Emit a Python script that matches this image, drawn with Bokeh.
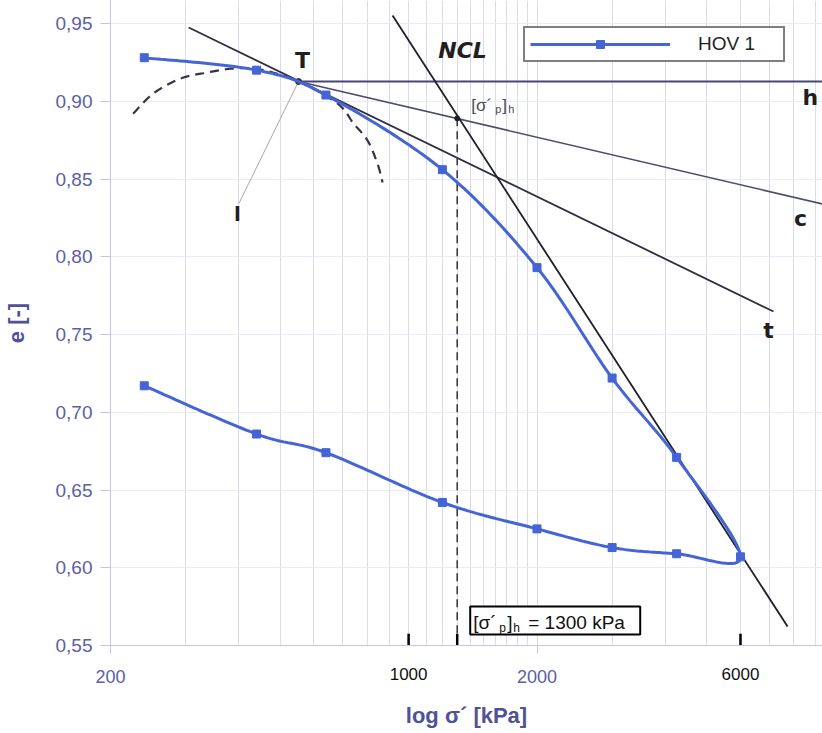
import numpy as np
from bokeh.plotting import figure
from bokeh.models import (Range1d, FixedTicker, CustomJSTickFormatter, Label,
                          Legend, LegendItem, BoxAnnotation, LogAxis)
from bokeh.embed import file_html
from bokeh.resources import INLINE

# ---------------- data ----------------
sigma_hov1 = [240, 440, 640, 1200, 2000, 3000, 4250, 6000,
              4250, 3000, 2000, 1200, 640, 440, 240]
e_hov1 = [0.928, 0.920, 0.904, 0.856, 0.793, 0.722, 0.671, 0.607,
          0.609, 0.613, 0.625, 0.642, 0.674, 0.686, 0.717]

# Casagrande construction
T_sigma, T_e = 552, 0.9127
horizontal_sigma = [552, 9600]
horizontal_e = [0.9127, 0.9127]
tangent_sigma = [305, 7170]
tangent_e = [0.9474, 0.7648]
bisector_sigma = [552, 9600]
bisector_e = [0.9127, 0.8332]
ncl_sigma = [917, 7736]
ncl_e = [0.9551, 0.5622]
l_sigma = [552, 400]
l_e = [0.9127, 0.8342]
arc_sigma = [226, 252, 292, 338, 389, 449, 552, 681, 743, 801, 845, 869]
arc_e = [0.892, 0.905, 0.9146, 0.9185, 0.9211, 0.9204, 0.9127,
         0.8986, 0.8857, 0.8748, 0.860, 0.8478]
sigma_p = 1300
sigma_p_e = 0.889

x_tick_values = [200, 2000]
hand_tick_values = [1000, 6000]
y_tick_values = [0.55, 0.60, 0.65, 0.70, 0.75, 0.80, 0.85, 0.90, 0.95]
grid_sigma = list(range(200, 2001, 100)) + list(range(3000, 9001, 1000))

# ---------------- layout ----------------
W, H = 822, 733
ML, MB = 110, 88
FW, FH = W - ML, H - MB
PXD = 426.5                       # pixels per decade
X0 = 200
X1 = X0 * 10 ** (FW / PXD)
Y0 = 0.55
PXE = 622 / 0.40                  # pixels per unit e
Y1 = Y0 + FH / PXE

BLUE = "#4565d6"
AXC = "#5c5ea6"
TITLEC = "#4f5199"


def smooth(xs, ys, n=30):
    P = np.column_stack([np.log10(np.asarray(xs, float)) * PXD,
                         np.asarray(ys, float) * PXE])
    out = []
    m = len(P)
    for i in range(m - 1):
        p0 = P[i - 1] if i > 0 else P[i]
        p1, p2 = P[i], P[i + 1]
        p3 = P[i + 2] if i + 2 < m else P[i + 1]
        c1 = p1 + (p2 - p0) / 6.0
        c2 = p2 - (p3 - p1) / 6.0
        t = np.linspace(0, 1, n)[:, None]
        B = ((1 - t) ** 3) * p1 + 3 * ((1 - t) ** 2) * t * c1 + \
            3 * (1 - t) * t ** 2 * c2 + t ** 3 * p2
        out.append(B if i == m - 2 else B[:-1])
    B = np.vstack(out)
    return 10 ** (B[:, 0] / PXD), B[:, 1] / PXE


def shift(x, px):
    return x * 10 ** (px / PXD)


p = figure(width=W, height=H, x_axis_type="log",
           x_range=Range1d(X0, X1), y_range=Range1d(Y0, Y1),
           output_backend="svg", toolbar_location=None,
           min_border_left=ML, min_border_right=0,
           min_border_top=0, min_border_bottom=MB)
p.outline_line_color = None
p.background_fill_color = "white"
p.border_fill_color = "white"

# grid
p.xgrid.ticker = FixedTicker(ticks=grid_sigma)
p.xgrid.grid_line_color = "#d9d9ef"
p.xgrid.grid_line_width = 1
p.ygrid.ticker = FixedTicker(ticks=y_tick_values)
p.ygrid.grid_line_color = "#ebebf6"

# axes
for ax in (p.xaxis[0], p.yaxis[0]):
    ax.axis_line_color = "#c4c4e4"
    ax.major_tick_line_color = "#c4c4e4"
    ax.minor_tick_line_color = None
    ax.major_tick_in = 0
    ax.major_label_text_color = AXC
    ax.major_label_text_font = "Liberation Sans"
    ax.axis_label_text_color = TITLEC
    ax.axis_label_text_font = "Liberation Sans"
    ax.axis_label_text_font_style = "bold"
    ax.axis_label_text_font_size = "22px"

xa = p.xaxis[0]
xa.ticker = FixedTicker(ticks=x_tick_values, minor_ticks=[])
xa.formatter = CustomJSTickFormatter(code="return String(Math.round(tick));")
xa.major_tick_out = 8
xa.major_label_standoff = 16
xa.major_label_text_font_size = "18px"

# second bottom axis: hand-written black numbers on the same row, plus title
xb = LogAxis(ticker=FixedTicker(ticks=hand_tick_values, minor_ticks=[]),
             formatter=CustomJSTickFormatter(code="return String(Math.round(tick));"))
xb.axis_line_color = None
xb.major_tick_line_color = None
xb.minor_tick_line_color = None
xb.major_tick_in = 0
xb.major_tick_out = 0
xb.major_label_standoff = -18
xb.major_label_text_color = "#111111"
xb.major_label_text_font = "Liberation Sans"
xb.major_label_text_font_size = "17px"
xb.axis_label = "log σ´ [kPa]"
xb.axis_label_standoff = 20
xb.axis_label_text_color = TITLEC
xb.axis_label_text_font = "Liberation Sans"
xb.axis_label_text_font_style = "bold"
xb.axis_label_text_font_size = "22px"
p.add_layout(xb, "below")

ya = p.yaxis[0]
ya.ticker = FixedTicker(ticks=y_tick_values, minor_ticks=[])
ya.formatter = CustomJSTickFormatter(
    code="return tick.toFixed(2).replace('.', ',');")
ya.major_tick_out = 10
ya.major_label_standoff = 8
ya.major_label_text_font_size = "19px"
ya.axis_label = "e [-]"
ya.axis_label_standoff = 24

# construction lines
p.line(l_sigma, l_e, line_color="#a8a8a8", line_width=1)
p.line(horizontal_sigma, horizontal_e, line_color="#45467a", line_width=2)
p.line(bisector_sigma, bisector_e, line_color="#4c4c6c", line_width=1.6)
p.line(tangent_sigma, tangent_e, line_color="#2e2e40", line_width=1.8)
p.line(ncl_sigma, ncl_e, line_color="#1f1f2c", line_width=1.8)
ax_, ay_ = smooth(arc_sigma, arc_e, n=20)
p.line(ax_, ay_, line_color="#34344a", line_width=2.2, line_dash="9 6")
p.line([sigma_p, sigma_p], [sigma_p_e, Y0], line_color="#3a3a48",
       line_width=1.6, line_dash="8 5")
p.scatter([sigma_p], [sigma_p_e], size=5, color="#1f1f2c")
p.scatter([T_sigma], [T_e], size=6, color="#2e2e40")

# hand-drawn ticks on the x axis
for xv in hand_tick_values + [sigma_p]:
    p.line([xv, xv], [Y0, Y0 + 0.0075], line_color="black", line_width=2.5)

# HOV 1 series
sx, sy = smooth(sigma_hov1, e_hov1)
line_r = p.line(sx, sy, line_color=BLUE, line_width=3)
pts_r = p.scatter(sigma_hov1, e_hov1, marker="square", size=8,
                  fill_color=BLUE, line_color=BLUE)

legend = Legend(items=[LegendItem(label="HOV 1", renderers=[line_r, pts_r])],
                location=(523 - ML, 645 - 62))
legend.padding = 5
legend.margin = 0
legend.spacing = 0
legend.glyph_width = 140
legend.glyph_height = 20
legend.label_standoff = 28
legend.label_width = 80
legend.label_height = 20
legend.label_text_font = "Liberation Sans"
legend.label_text_font_size = "19px"
legend.label_text_color = "#222222"
legend.border_line_color = "black"
legend.border_line_width = 2
legend.background_fill_color = "white"
legend.background_fill_alpha = 1
p.add_layout(legend)

# handwritten labels
HAND = dict(text_font="DejaVu Sans", text_font_style="bold",
            text_color="#1f1f1f", text_align="center", text_baseline="middle")
for txt, xs_, ys_, fs in [("T", 564, 0.9262, "22px"),
                          ("h", 8750, 0.9024, "22px"),
                          ("c", 8300, 0.8245, "22px"),
                          ("t", 6980, 0.7524, "22px"),
                          ("l", 397, 0.8277, "20px")]:
    p.add_layout(Label(x=xs_, y=ys_, text=txt, text_font_size=fs, **HAND))
p.add_layout(Label(x=1338, y=0.9326, text="NCL", text_font_size="22px",
                   text_font="DejaVu Sans", text_font_style="bold italic",
                   text_color="#1f1f1f", text_align="center",
                   text_baseline="middle"))

# [σ´p]h marker label
SM = dict(text_font="Liberation Sans", text_color="#4a4a4a",
          text_baseline="alphabetic", text_align="left")
yb = sigma_p_e + 0.0045 + 6 / PXE
p.add_layout(Label(x=sigma_p, y=yb, x_offset=14, text="[σ´", text_font_size="17px", **SM))
p.add_layout(Label(x=sigma_p, y=yb, x_offset=38, y_offset=-4, text="p", text_font_size="11px", **SM))
p.add_layout(Label(x=sigma_p, y=yb, x_offset=45, text="]", text_font_size="17px", **SM))
p.add_layout(Label(x=sigma_p, y=yb, x_offset=51, y_offset=-4, text="h", text_font_size="11px", **SM))

# result box
box = BoxAnnotation(left=shift(sigma_p, 13), right=shift(sigma_p, 183),
                    bottom=Y0 + 11 / PXE, top=Y0 + 39 / PXE,
                    fill_color="white", fill_alpha=1,
                    line_color="black", line_width=2, line_alpha=1)
p.add_layout(box)
BX = dict(text_font="Liberation Sans", text_color="#111111",
          text_baseline="alphabetic", text_align="left")
yb2 = Y0 + 23 / PXE
p.add_layout(Label(x=sigma_p, y=yb2, x_offset=16, text="[σ´", text_font_size="19px", **BX))
p.add_layout(Label(x=sigma_p, y=yb2, x_offset=42, y_offset=-5, text="p", text_font_size="12px", **BX))
p.add_layout(Label(x=sigma_p, y=yb2, x_offset=50, text="]", text_font_size="19px", **BX))
p.add_layout(Label(x=sigma_p, y=yb2, x_offset=56, y_offset=-5, text="h", text_font_size="12px", **BX))
p.add_layout(Label(x=sigma_p, y=yb2, x_offset=71, text="= 1300 kPa", text_font_size="19px", **BX))

open("out.html", "w").write(file_html(p, INLINE))
